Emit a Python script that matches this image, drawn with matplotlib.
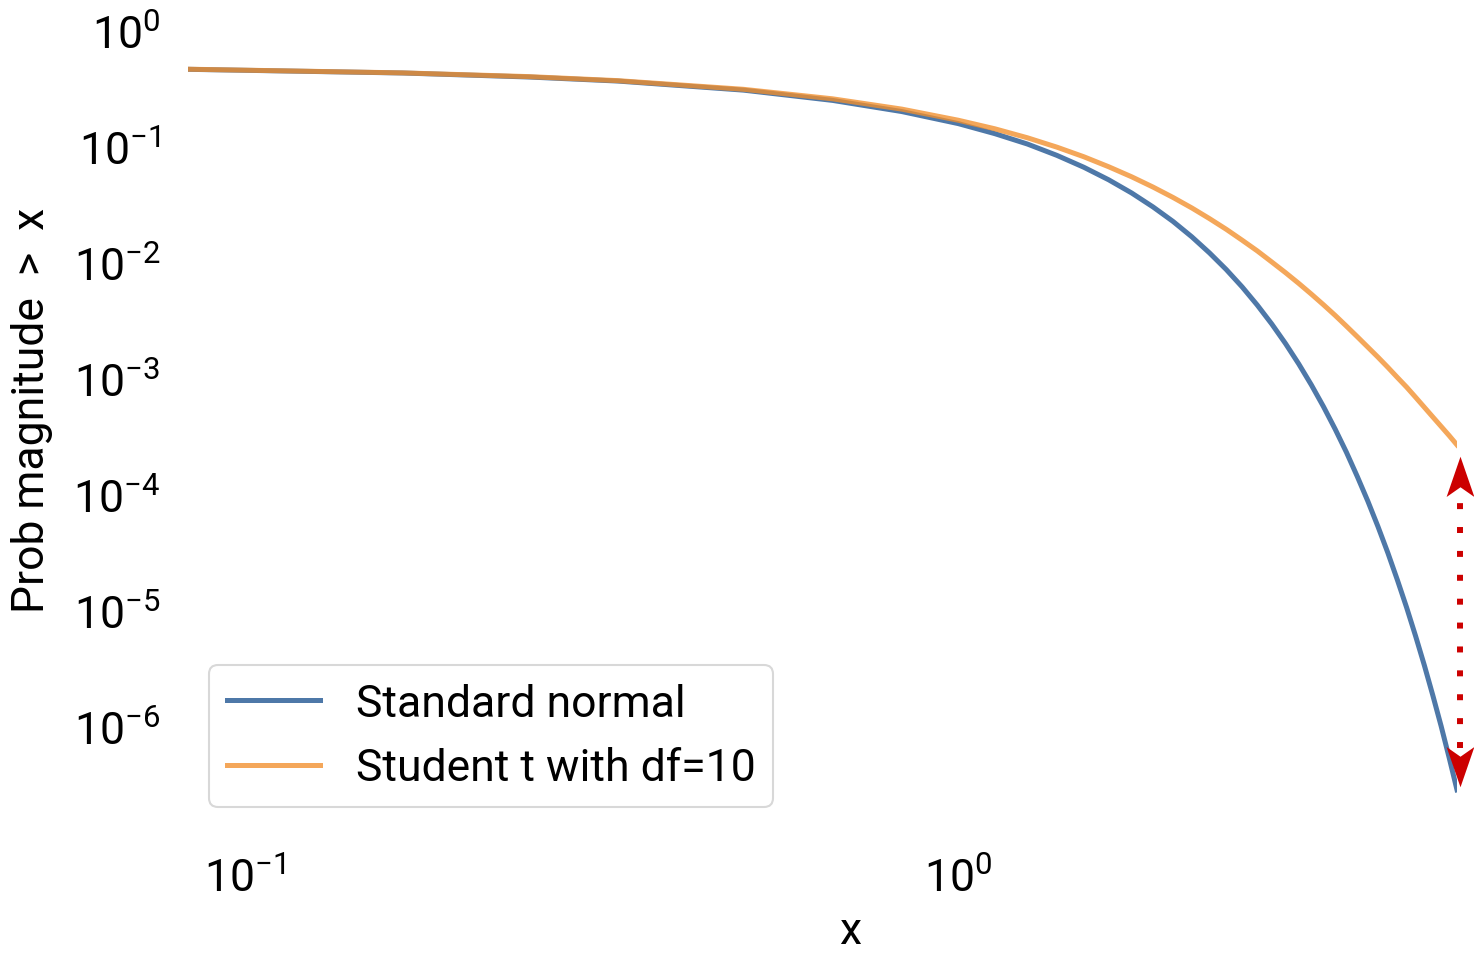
import numpy as np
import matplotlib.pyplot as plt
from matplotlib.path import Path

plt.rcParams['font.family'] = ['Roboto', 'DejaVu Sans']
plt.rcParams['mathtext.fontset'] = 'custom'
plt.rcParams['mathtext.rm'] = 'Roboto'
plt.rcParams['mathtext.it'] = 'Roboto:italic'

# tail probabilities P(X > x)
x = [0.0833, 0.1667, 0.25, 0.3333, 0.5, 0.6667, 0.8333, 1.0, 1.125, 1.25,
     1.375, 1.5, 1.625, 1.75, 1.875, 2.0, 2.125, 2.25, 2.375, 2.5, 2.625,
     2.75, 2.875, 3.0, 3.125, 3.25, 3.375, 3.5, 3.625, 3.75, 3.875, 4.0,
     4.125, 4.25, 4.375, 4.5, 4.625, 4.75, 4.875, 5.0]
p_normal = [0.467, 0.434, 0.401, 0.370, 0.309, 0.252, 0.202, 0.159, 0.1303,
            0.106, 0.0846, 0.0668, 0.0521, 0.0401, 0.0304, 0.0228, 0.0168,
            0.0122, 0.00877, 0.00621, 0.00433, 0.00298, 0.00202, 0.00135,
            8.89e-4, 5.77e-4, 3.69e-4, 2.33e-4, 1.44e-4, 8.84e-5, 5.33e-5,
            3.17e-5, 1.85e-5, 1.07e-5, 6.07e-6, 3.40e-6, 1.87e-6, 1.02e-6,
            5.44e-7, 2.87e-7]
p_student = [0.468, 0.435, 0.404, 0.373, 0.314, 0.260, 0.212, 0.170, 0.1435,
             0.120, 0.0996, 0.0823, 0.0675, 0.0553, 0.0451, 0.0367, 0.0298,
             0.0241, 0.0195, 0.0157, 0.0127, 0.0102, 0.00825, 0.00667,
             0.00539, 0.00436, 0.00353, 0.00285, 0.00231, 0.00188, 0.00154,
             0.00126, 0.00103, 8.5e-4, 6.95e-4, 5.7e-4, 4.7e-4, 3.9e-4,
             3.25e-4, 2.7e-4]
yticks = [1e0, 1e-1, 1e-2, 1e-3, 1e-4, 1e-5, 1e-6]
xticks = [1e-1, 1e0]

fig = plt.figure(figsize=(14.74, 9.54), dpi=100)
ax = fig.add_axes([188 / 1474, 124 / 954, 1269 / 1474, 815 / 954])

ax.plot(x, p_normal, color='#4e78a8', lw=3.6, label='Standard normal')
ax.plot(x, p_student, color='#f28e2b', alpha=0.78, lw=3.6,
        label='Student t with df=10')
ax.set_xscale('log')
ax.set_yscale('log')
ax.set_xlim(x[0], x[-1])
ax.set_ylim(1.32e-7, 1.4)
ax.set_xticks(xticks)
ax.set_yticks(yticks)

# dotted double arrow showing the gap between the two tails at the end
red = '#cc0000'
xa = x[-1] * 1.01
top = p_student[-1] / 2.19   # centre of upper head
bot = p_normal[-1] * 1.83    # centre of lower head
ax.plot([xa, xa], [bot * 1.25, top / 1.25], color=red, lw=4.3,
        linestyle=(0, (1, 3)), clip_on=False)
head_up = Path([(0, 1), (0.5, -0.45), (0, -0.1), (-0.5, -0.45), (0, 1)],
               [Path.MOVETO, Path.LINETO, Path.LINETO, Path.LINETO,
                Path.CLOSEPOLY])
head_down = Path([(0, -1), (0.5, 0.45), (0, 0.1), (-0.5, 0.45), (0, -1)],
                 [Path.MOVETO, Path.LINETO, Path.LINETO, Path.LINETO,
                  Path.CLOSEPOLY])
ax.plot([xa], [top], marker=head_up, markersize=40, color=red,
        mew=0, clip_on=False, ls='none')
ax.plot([xa], [bot], marker=head_down, markersize=40, color=red,
        mew=0, clip_on=False, ls='none')

for s in ax.spines.values():
    s.set_visible(False)
ax.tick_params(which='both', length=0, labelsize=32)
ax.tick_params(axis='y', pad=20)
ax.tick_params(axis='x', pad=20)
ax.minorticks_off()

ax.set_xlabel('x', fontsize=32)
ax.set_ylabel('Prob magnitude  >  x', fontsize=32)
ax.xaxis.set_label_coords(0.522, -0.1)
ax.yaxis.set_label_coords(-0.106, 0.515)

leg = ax.legend(loc='lower left', bbox_to_anchor=(0.0165, 0.027),
                borderaxespad=0, fontsize=32, handlelength=2.1,
                frameon=True, fancybox=True, framealpha=1)
leg.get_frame().set_edgecolor('#d8d8d8')
leg.get_frame().set_linewidth(1.5)

fig.savefig('out.png', dpi=100)
